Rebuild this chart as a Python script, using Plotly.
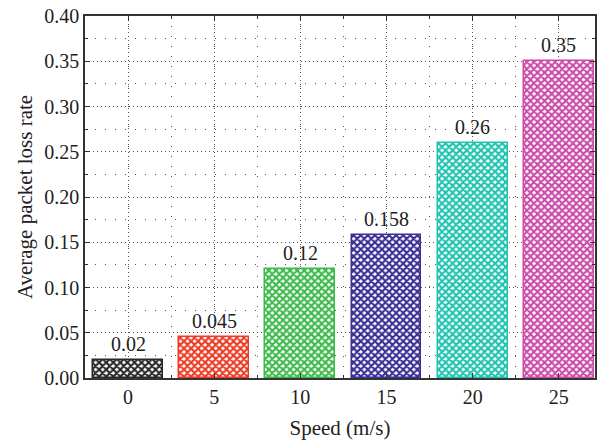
import plotly.graph_objects as go

speeds = [0, 5, 10, 15, 20, 25]
loss_rate = [0.02, 0.045, 0.12, 0.158, 0.26, 0.35]
labels = ["0.02", "0.045", "0.12", "0.158", "0.26", "0.35"]
colors = ["#2a2a2a", "#ee3b24", "#3dbb4a", "#3b2f96", "#1fc4b0", "#cc4aa8"]

font_family = "Liberation Serif"

fig = go.Figure()
fig.add_trace(go.Bar(
    x=speeds, y=loss_rate, width=4.05,
    marker=dict(
        color="white",
        line=dict(color=colors, width=1.5),
        pattern=dict(shape="x", fgcolor=colors, bgcolor="white", size=5,
                     solidity=0.65, fgopacity=1),
    ),
))

for xv, yv, lab in zip(speeds, loss_rate, labels):
    fig.add_annotation(x=xv, y=yv, text=lab, showarrow=False, yanchor="bottom",
                       yshift=3, font=dict(family=font_family, size=20, color="#222"))

axis_common = dict(
    showline=True, linecolor="#333", linewidth=1.5, mirror="ticks",
    ticks="inside", ticklen=5, tickcolor="#333", tickwidth=1.2,
    showgrid=True, gridcolor="#555", griddash="1px,3px", gridwidth=1,
    zeroline=False,
    tickfont=dict(family=font_family, size=20, color="#222"),
)

fig.update_xaxes(
    range=[-2.5, 27.1], tickmode="array", tickvals=speeds,
    title=dict(text="Speed (m/s)", font=dict(family=font_family, size=21, color="#222"), standoff=14),
    minor=dict(dtick=2.5, tick0=0, ticks="inside", ticklen=3, tickcolor="#333",
               showgrid=True, gridcolor="#555", griddash="1px,9px", gridwidth=1),
    **axis_common,
)
fig.update_yaxes(
    range=[0, 0.40], tick0=0, dtick=0.05, tickformat=".2f",
    title=dict(text="Average packet loss rate", font=dict(family=font_family, size=21, color="#222"), standoff=6),
    minor=dict(dtick=0.025, ticks="inside", ticklen=3, tickcolor="#333",
               showgrid=True, gridcolor="#555", griddash="1px,9px", gridwidth=1),
    **axis_common,
)

fig.update_layout(
    width=602, height=441,
    margin=dict(l=85, r=5, t=14, b=61),
    plot_bgcolor="white", paper_bgcolor="white",
    showlegend=False, bargap=0,
)

fig.write_html("out.html")
